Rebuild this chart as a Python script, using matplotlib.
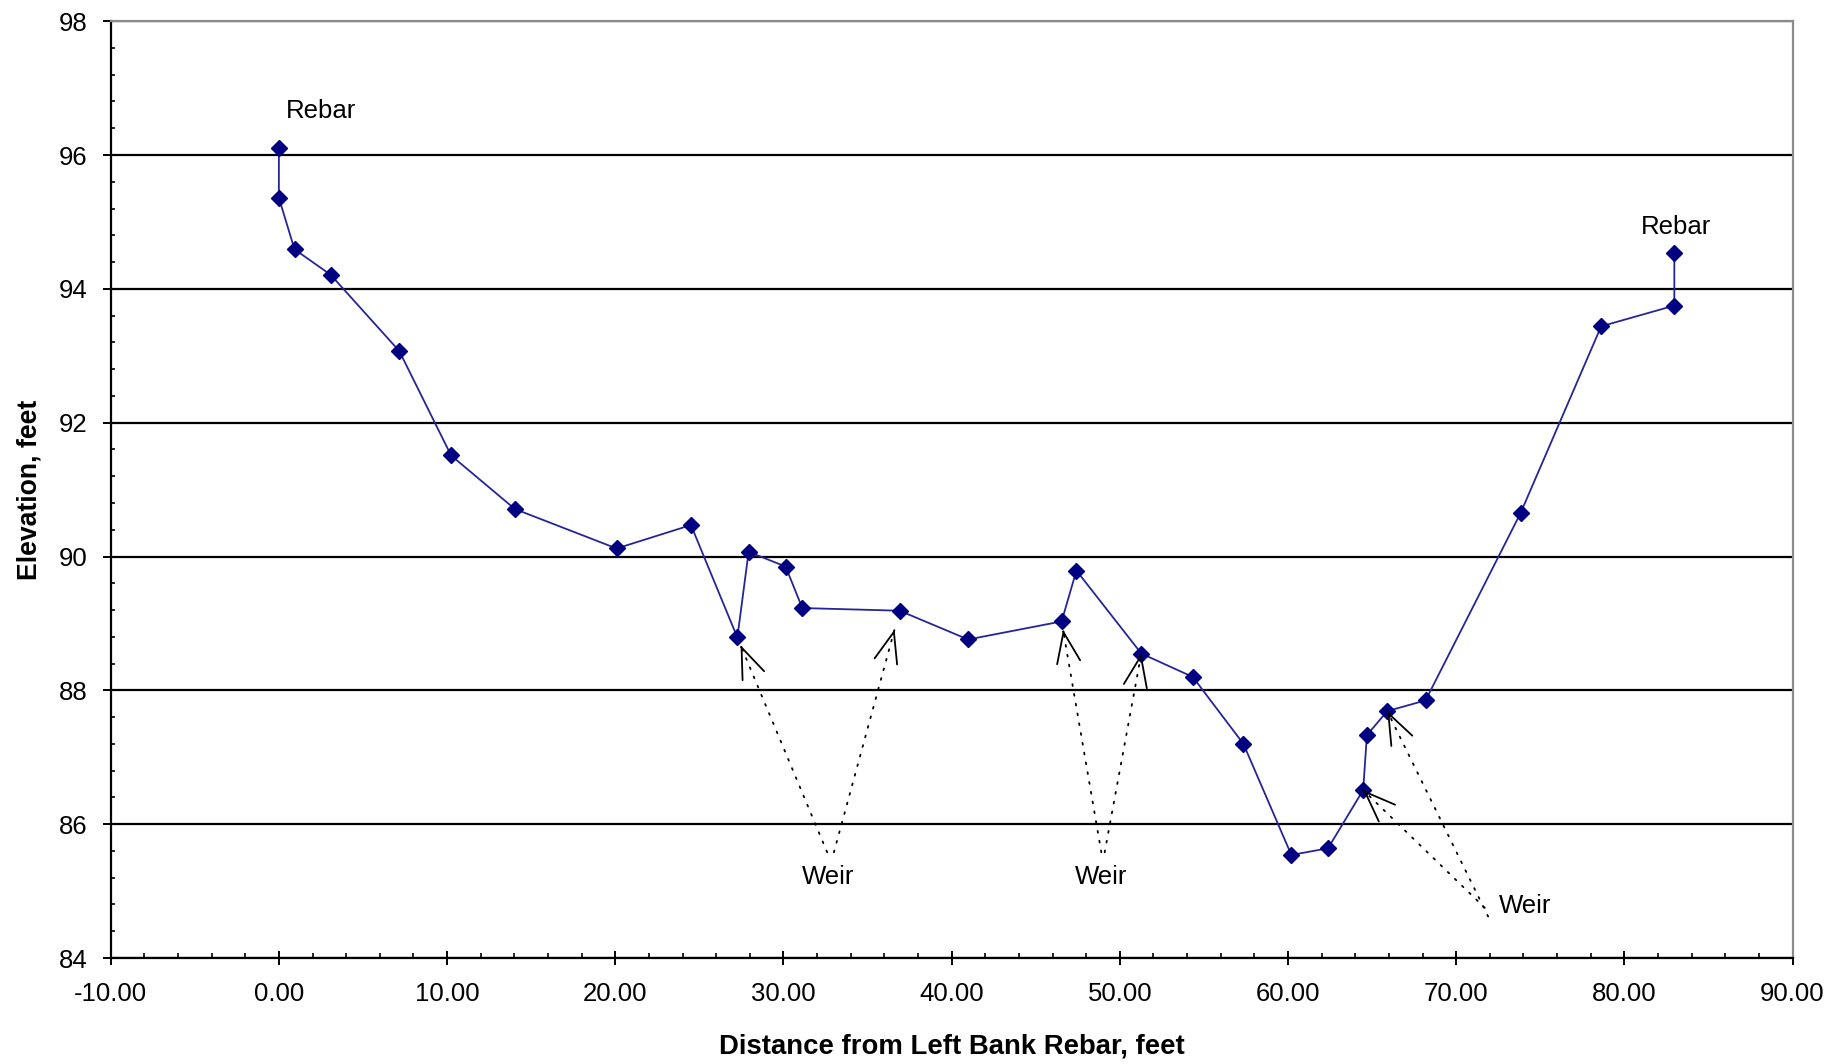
import numpy as np
import matplotlib
matplotlib.use("Agg")
import matplotlib.pyplot as plt

plt.rcParams['font.family'] = ['Liberation Sans', 'DejaVu Sans']

# Surveyed cross-section: station (ft from left bank rebar) and elevation (ft)
station = [0.0, 0.0, 0.93, 3.08, 7.16, 10.24, 14.03, 20.08, 24.5, 27.26,
           27.93, 30.13, 31.12, 36.91, 40.98, 46.54, 47.42, 51.28, 54.34, 57.35,
           60.2, 62.38, 64.47, 64.69, 65.9, 68.18, 73.83, 78.62, 82.97, 82.97]
elevation = [96.11, 95.36, 94.59, 94.21, 93.07, 91.51, 90.71, 90.12, 90.47, 88.79,
             90.07, 89.85, 89.23, 89.19, 88.76, 89.03, 89.79, 88.55, 88.2, 87.2,
             85.54, 85.64, 86.51, 87.33, 87.69, 87.85, 90.65, 93.44, 93.75, 94.53]

x_ticks = [-10, 0, 10, 20, 30, 40, 50, 60, 70, 80, 90]
y_ticks = [84, 86, 88, 90, 92, 94, 96, 98]

# Rebar labels
rebar_text = ["Rebar", "Rebar"]
rebar_xy = [(2.5, 96.66), (83.06, 94.93)]

# Weir callouts: label position, and for each arrow the surveyed point index it
# points at, the tail of the dotted leader, and how far the head stops short.
weir_labels = [(32.64, 85.21, 'center'), (48.9, 85.21, 'center'), (72.55, 84.77, 'left')]
weir_targets = [9, 13, 15, 17, 22, 24]
weir_tails = [(32.6, 85.58), (33.0, 85.58), (48.9, 85.58), (49.1, 85.58),
              (71.7, 84.75), (71.9, 84.62)]
weir_shrink = [6, 14, 6, 0, 0, 0]

fig = plt.figure(figsize=(18.48, 10.64), dpi=100)
ax = fig.add_axes([0.0599, 0.0996, 0.9101, 0.8805])

ax.plot(station, elevation, color='#25259a', lw=1.3, marker='D', ms=8,
        mfc='#000080', mec='#000080', zorder=3)

ax.set_xlim(-10, 90)
ax.set_ylim(84, 98)
ax.set_xticks(x_ticks)
ax.set_xticklabels([f"{v:.2f}" for v in x_ticks])
ax.set_xticks(np.arange(-10, 90.1, 2), minor=True)
ax.set_yticks(y_ticks)
ax.set_yticklabels([str(v) for v in y_ticks])
ax.set_yticks(np.arange(84, 98.01, 0.4), minor=True)

ax.tick_params(axis='x', which='major', direction='inout', length=10, width=1.4,
               labelsize=18.5, pad=12)
ax.tick_params(axis='x', which='minor', direction='in', length=3.6, width=1.2)
ax.tick_params(axis='y', which='major', direction='out', length=5.8, width=1.4,
               labelsize=18.5, pad=11)
ax.tick_params(axis='y', which='minor', direction='in', length=3.2, width=1.2)

ax.yaxis.grid(True, which='major', color='black', lw=1.6)
ax.set_axisbelow(True)
for side in ('left', 'bottom'):
    ax.spines[side].set_color('black')
    ax.spines[side].set_linewidth(1.6)
for side in ('top', 'right'):
    ax.spines[side].set_color('#8c8c8c')
    ax.spines[side].set_linewidth(1.6)

ax.set_xlabel("Distance from Left Bank Rebar, feet", fontsize=19.8,
              fontweight='bold', labelpad=20)
ax.set_ylabel("Elevation, feet", fontsize=19.2, fontweight='bold', labelpad=11.5)

for t, (tx, ty) in zip(rebar_text, rebar_xy):
    ax.text(tx, ty, t, fontsize=18.5, ha='center', va='center')

for wx, wy, ha in weir_labels:
    ax.text(wx, wy, "Weir", fontsize=18.5, ha=ha, va='center')

# Dotted leaders with solid open arrowheads
to_px = ax.transData.transform
px_per_pt = fig.dpi / 72.0
for idx, tail, shrink in zip(weir_targets, weir_tails, weir_shrink):
    p_tip = np.array(to_px((station[idx], elevation[idx])))
    p_tail = np.array(to_px(tail))
    d = p_tail - p_tip
    d /= np.hypot(*d)
    tip = p_tip + d * shrink * px_per_pt
    ax.annotate('', xy=tuple(tip), xytext=tuple(p_tail),
                xycoords='figure pixels', textcoords='figure pixels',
                arrowprops=dict(arrowstyle='-', color='black', lw=1.3,
                                linestyle=(0, (1, 4.5)), shrinkA=0, shrinkB=0))
    ax.annotate('', xy=tuple(tip), xytext=tuple(tip + d * 2),
                xycoords='figure pixels', textcoords='figure pixels',
                arrowprops=dict(arrowstyle='->,head_length=1.1,head_width=0.42',
                                mutation_scale=20, color='black', lw=1.3,
                                shrinkA=0, shrinkB=0))

fig.savefig("out.png", dpi=100)
